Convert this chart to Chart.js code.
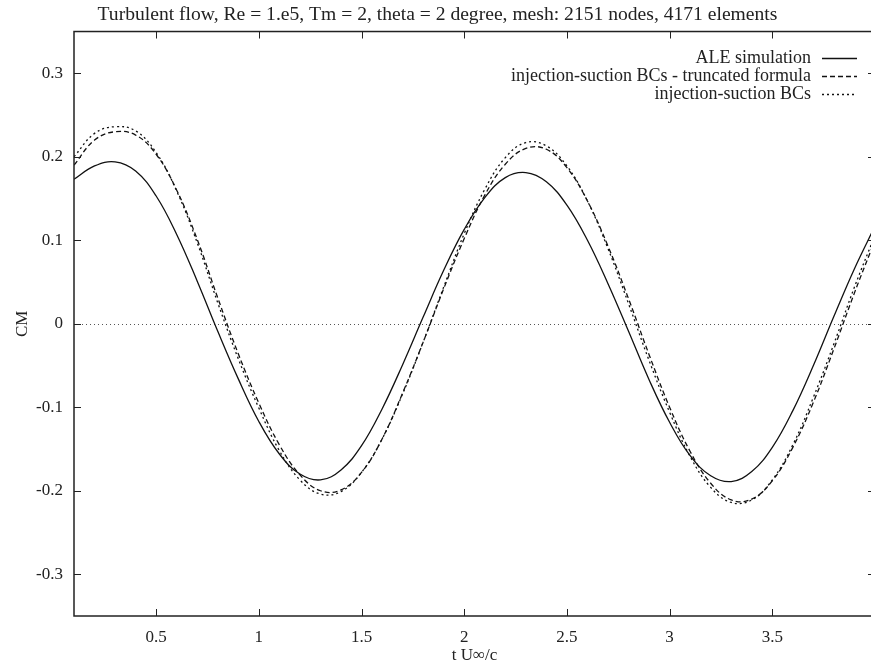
<!DOCTYPE html>
<html lang="en">
<head>
    <meta charset="UTF-8">
    <title>CM vs time</title>
    <script src="https://cdn.jsdelivr.net/npm/chart.js"></script>
    <style>
        body {
            margin: 0;
            padding: 0;
            background: #fff;
            overflow: hidden;
        }
        #wrap {
            width: 880px;
            height: 667px;
        }
    </style>
</head>
<body>
    <div id="wrap">
        <canvas id="cmChart" width="880" height="667"></canvas>
    </div>

    <script>
        // time samples (t U/c)
        const times = [0.1, 0.2, 0.3, 0.4, 0.5, 0.6, 0.7, 0.8, 0.9, 1.0,
                       1.1, 1.2, 1.3, 1.4, 1.5, 1.6, 1.7, 1.8, 1.9, 2.0,
                       2.1, 2.2, 2.3, 2.4, 2.5, 2.6, 2.7, 2.8, 2.9, 3.0,
                       3.1, 3.2, 3.3, 3.4, 3.5, 3.6, 3.7, 3.8, 3.9, 4.0];

        const aleSim = [0.173, 0.189, 0.194, 0.183, 0.153, 0.107, 0.051, -0.009, -0.066, -0.117,
                        -0.156, -0.180, -0.187, -0.175, -0.146, -0.102, -0.049, 0.008, 0.064, 0.113,
                        0.151, 0.175, 0.181, 0.170, 0.142, 0.100, 0.048, -0.009, -0.067, -0.118,
                        -0.158, -0.182, -0.189, -0.177, -0.148, -0.104, -0.050, 0.009, 0.066, 0.117];

        const truncated = [0.190, 0.220, 0.230, 0.226, 0.203, 0.160, 0.101, 0.031, -0.036, -0.095,
                           -0.145, -0.181, -0.200, -0.199, -0.178, -0.138, -0.083, -0.022, 0.042, 0.102,
                           0.154, 0.191, 0.210, 0.209, 0.187, 0.147, 0.093, 0.030, -0.037, -0.100,
                           -0.153, -0.191, -0.211, -0.210, -0.188, -0.148, -0.094, -0.030, 0.037, 0.100];

        const injSuction = [0.200, 0.228, 0.236, 0.231, 0.205, 0.159, 0.097, 0.025, -0.042, -0.101,
                            -0.152, -0.187, -0.204, -0.201, -0.178, -0.138, -0.084, -0.022, 0.044, 0.108,
                            0.161, 0.199, 0.217, 0.213, 0.189, 0.147, 0.090, 0.024, -0.044, -0.106,
                            -0.159, -0.196, -0.214, -0.211, -0.187, -0.145, -0.088, -0.024, 0.044, 0.106];

        const seriesNames = ['ALE simulation', 'injection-suction BCs - truncated formula', 'injection-suction BCs'];

        const xTicks = [0.5, 1, 1.5, 2, 2.5, 3, 3.5, 4];
        const yTicks = [-0.3, -0.2, -0.1, 0, 0.1, 0.2, 0.3];

        const FONT = 'Liberation Serif';
        const INK = '#222';

        function toPoints(ys) {
            return times.map((t, i) => ({ x: t, y: ys[i] }));
        }

        // frame, inward ticks, zero line and the key
        const gnuplotLook = {
            id: 'gnuplotLook',
            beforeDatasetsDraw(chart) {
                const { ctx, chartArea: a, scales: { y } } = chart;
                ctx.save();
                ctx.strokeStyle = '#555';
                ctx.lineWidth = 1;
                ctx.setLineDash([1, 3]);
                const y0 = Math.round(y.getPixelForValue(0)) + 0.5;
                ctx.beginPath();
                ctx.moveTo(a.left, y0);
                ctx.lineTo(a.right, y0);
                ctx.stroke();
                ctx.restore();
            },
            afterDraw(chart) {
                const { ctx, chartArea: a, scales: { x, y } } = chart;
                ctx.save();
                ctx.strokeStyle = INK;
                ctx.lineWidth = 1.5;
                ctx.strokeRect(a.left, a.top, a.right - a.left, a.bottom - a.top);

                ctx.lineWidth = 1;
                const tl = 7;
                ctx.beginPath();
                xTicks.forEach(v => {
                    const px = Math.round(x.getPixelForValue(v)) + 0.5;
                    ctx.moveTo(px, a.bottom); ctx.lineTo(px, a.bottom - tl);
                    ctx.moveTo(px, a.top); ctx.lineTo(px, a.top + tl);
                });
                yTicks.forEach(v => {
                    const py = Math.round(y.getPixelForValue(v)) + 0.5;
                    ctx.moveTo(a.left, py); ctx.lineTo(a.left + tl, py);
                    ctx.moveTo(a.right, py); ctx.lineTo(a.right - tl, py);
                });
                ctx.stroke();

                // key, text on the left of the sample
                ctx.font = '18px "' + FONT + '"';
                ctx.fillStyle = INK;
                ctx.textAlign = 'right';
                ctx.textBaseline = 'middle';
                chart.data.datasets.forEach((ds, i) => {
                    const ry = 58 + i * 18;
                    ctx.fillText(ds.label, 811, ry);
                    ctx.strokeStyle = ds.borderColor;
                    ctx.lineWidth = ds.borderWidth;
                    ctx.setLineDash(ds.borderDash || []);
                    ctx.beginPath();
                    ctx.moveTo(822, ry + 0.5);
                    ctx.lineTo(857, ry + 0.5);
                    ctx.stroke();
                });
                ctx.restore();
            }
        };

        const ctx = document.getElementById('cmChart').getContext('2d');
        const cmChart = new Chart(ctx, {
            type: 'line',
            data: {
                datasets: [
                    { label: seriesNames[0], data: toPoints(aleSim), borderColor: '#111', borderWidth: 1.3, borderDash: [] },
                    { label: seriesNames[1], data: toPoints(truncated), borderColor: '#111', borderWidth: 1.3, borderDash: [5, 3] },
                    { label: seriesNames[2], data: toPoints(injSuction), borderColor: '#111', borderWidth: 1.3, borderDash: [2, 3] }
                ]
            },
            options: {
                responsive: false,
                animation: false,
                layout: { padding: { left: 0, right: 5, top: 0, bottom: 0 } },
                elements: { point: { radius: 0 }, line: { tension: 0.4 } },
                plugins: {
                    legend: { display: false },
                    tooltip: { enabled: false },
                    title: {
                        display: true,
                        text: 'Turbulent flow, Re = 1.e5, Tm = 2, theta = 2 degree, mesh: 2151 nodes, 4171 elements',
                        color: INK,
                        font: { family: FONT, size: 19.6, weight: 'normal' },
                        padding: { top: 3, bottom: 5 }
                    }
                },
                scales: {
                    x: {
                        type: 'linear',
                        min: 0.1,
                        max: 4,
                        afterBuildTicks: s => { s.ticks = xTicks.map(v => ({ value: v })); },
                        afterFit: s => { s.height = 51; s.paddingLeft = 0; s.paddingRight = 0; },
                        grid: { display: false, drawTicks: false },
                        border: { display: false },
                        ticks: {
                            padding: 11,
                            color: INK,
                            font: { family: FONT, size: 17 },
                            maxRotation: 0,
                            callback: v => String(v)
                        },
                        title: {
                            display: true,
                            text: 't U∞/c',
                            color: INK,
                            font: { family: FONT, size: 17 },
                            padding: { top: 0, bottom: 1 }
                        }
                    },
                    y: {
                        min: -0.35,
                        max: 0.35,
                        afterBuildTicks: s => { s.ticks = yTicks.map(v => ({ value: v })); },
                        afterFit: s => { s.width = 74; s.paddingTop = 0; s.paddingBottom = 0; },
                        grid: { display: false, drawTicks: false },
                        border: { display: false },
                        ticks: {
                            padding: 11,
                            color: INK,
                            font: { family: FONT, size: 17 },
                            callback: v => String(Math.round(v * 10) / 10)
                        },
                        title: {
                            display: true,
                            text: 'CM',
                            color: INK,
                            font: { family: FONT, size: 17 },
                            padding: { top: 12, bottom: 0 }
                        }
                    }
                }
            },
            plugins: [gnuplotLook]
        });
    </script>
</body>
</html>
